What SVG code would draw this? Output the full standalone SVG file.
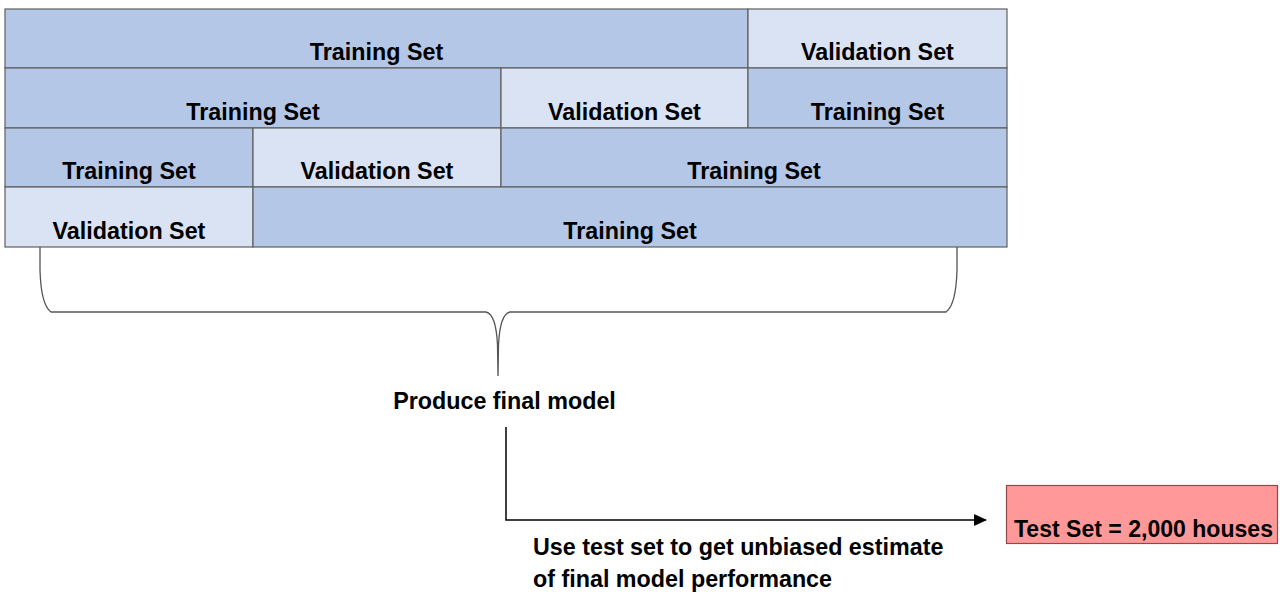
<svg xmlns="http://www.w3.org/2000/svg" width="1280" height="595" viewBox="0 0 1280 595">
  <style>
    .train { fill: #B4C7E7; stroke: #5f5f5f; stroke-width: 1.2; }
    .valid { fill: #DAE3F3; stroke: #5f5f5f; stroke-width: 1.2; }
    .lbl { font-family: "Liberation Sans", Arial, sans-serif; font-weight: bold; font-size: 23.3px; fill: #000; }
    .mid { text-anchor: middle; }
    .brace { fill: none; stroke: #555; stroke-width: 1.3; }
    .conn { fill: none; stroke: #000; stroke-width: 1.5; }
  </style>
  <defs>
    <marker id="arrow" markerWidth="13" markerHeight="12" refX="12" refY="6" orient="auto" markerUnits="userSpaceOnUse">
      <path d="M0,0 L13,6 L0,12 Z" fill="#000"/>
    </marker>
  </defs>
  <rect width="1280" height="595" fill="#fff"/>

  <!-- fold 1 -->
  <g id="fold1">
    <rect class="train" x="5" y="9" width="743" height="59"/>
    <text class="lbl mid" x="376.5" y="60">Training Set</text>
    <rect class="valid" x="748" y="9" width="259" height="59"/>
    <text class="lbl mid" x="877.5" y="60">Validation Set</text>
  </g>
  <!-- fold 2 -->
  <g id="fold2">
    <rect class="train" x="5" y="68" width="496" height="60"/>
    <text class="lbl mid" x="253" y="119.5">Training Set</text>
    <rect class="valid" x="501" y="68" width="247" height="60"/>
    <text class="lbl mid" x="624.5" y="119.5">Validation Set</text>
    <rect class="train" x="748" y="68" width="259" height="60"/>
    <text class="lbl mid" x="877.5" y="119.5">Training Set</text>
  </g>
  <!-- fold 3 -->
  <g id="fold3">
    <rect class="train" x="5" y="128" width="248" height="59"/>
    <text class="lbl mid" x="129" y="179">Training Set</text>
    <rect class="valid" x="253" y="128" width="248" height="59"/>
    <text class="lbl mid" x="377" y="179">Validation Set</text>
    <rect class="train" x="501" y="128" width="506" height="59"/>
    <text class="lbl mid" x="754" y="179">Training Set</text>
  </g>
  <!-- fold 4 -->
  <g id="fold4">
    <rect class="valid" x="5" y="187" width="248" height="60"/>
    <text class="lbl mid" x="129" y="238.5">Validation Set</text>
    <rect class="train" x="253" y="187" width="754" height="60"/>
    <text class="lbl mid" x="630" y="238.5">Training Set</text>
  </g>

  <!-- brace gathering all folds -->
  <g id="brace">
    <path class="brace" d="M40,247 L40,270 Q41,305 51,312 L486,312 Q496,314 497.5,345 L498,376 M498,376 L498.5,345 Q500,314 510,312 L946,312 Q956,305 957,270 L957,247"/>
  </g>

  <g id="final-model">
    <text class="lbl mid" x="504.5" y="409">Produce final model</text>
  </g>

  <g id="test-set">
    <rect x="1006.5" y="485.5" width="271" height="58" fill="#FF9999" stroke="#8a4a4a" stroke-width="1.2"/>
    <text class="lbl" x="1014" y="537" textLength="259" lengthAdjust="spacingAndGlyphs">Test Set = 2,000 houses</text>
  </g>

  <g id="connectors">
    <path class="conn" d="M506,427 L506,520 L986,520" marker-end="url(#arrow)"/>
  </g>

  <g id="caption">
    <text class="lbl" x="533" y="555">Use test set to get unbiased estimate</text>
    <text class="lbl" x="533" y="587">of final model performance</text>
  </g>
</svg>
